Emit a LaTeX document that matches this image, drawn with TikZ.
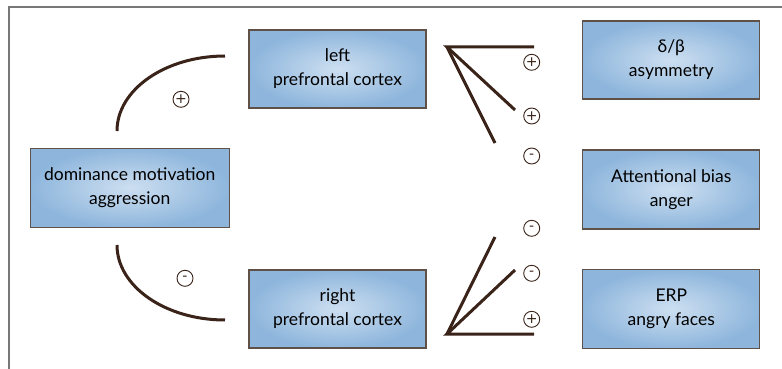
\documentclass[tikz,border=0pt]{standalone}
\usepackage{fontspec}
\setmainfont{Lato}
\newfontfamily\signfont{DejaVu Sans}
\definecolor{boxedge}{RGB}{95,80,72}
\definecolor{boxin}{RGB}{205,223,241}
\definecolor{boxout}{RGB}{142,182,220}
\definecolor{linec}{RGB}{58,36,26}
\definecolor{framec}{RGB}{120,120,120}
\begin{document}
\begin{tikzpicture}[x=1pt,y=-1pt,
  box/.style={draw=boxedge, line width=1.3pt, shading=radial, inner color=boxin, outer color=boxout,
    minimum width=177pt, minimum height=78pt, align=center, inner sep=0pt,
    font=\fontsize{17.5}{24}\selectfont, text=black},
  link/.style={draw=linec, line width=3pt},
  sign/.style={circle, draw=linec, line width=0.9pt, minimum size=16pt, inner sep=0pt,
    font=\signfont\fontsize{14}{14}\selectfont, text=linec}]
\useasboundingbox (0,0) rectangle (782,369);
\fill[white] (0,0) rectangle (782,369);
\draw[framec, line width=1.2pt] (9,369) -- (9,7) -- (782,7);

\node[box] (lpc) at (337.5,69) {left\\prefrontal cortex};
\node[box] (rpc) at (337.5,309) {right\\prefrontal cortex};
\node[box, minimum width=199pt, minimum height=79pt] (dom) at (129.7,187.7) {dominance motivation\\aggression};
\node[box] (db) at (671.3,60) {δ/β\\asymmetry};
\node[box, minimum height=79pt] (att) at (671.3,189.5) {Attentional bias\\anger};
\node[box, minimum height=79pt] (erp) at (671.3,309) {ERP\\angry faces};

% arcs
\coordinate (ua) at (117,131);
\coordinate (ub) at (225,56);
\coordinate (la) at (117,245);
\coordinate (lb) at (225,320);
\draw[link] (ua) .. controls (117,89.6) and (165.4,56) .. (ub);
\draw[link] (la) .. controls (117,286.4) and (165.4,320) .. (lb);
\node[sign] (s0) at (181,99.3) {+};
\node[sign] (s1) at (185,278.3) {-};

% upper fan
\coordinate (uv) at (447,47);
\coordinate (u1) at (534,47);
\coordinate (u2) at (515,110);
\coordinate (u3) at (495,143);
\draw[link, line join=miter] (u1) -- (uv) -- (u2);
\draw[link] (uv) -- (u3);
% lower fan
\coordinate (lv) at (447,334);
\coordinate (l1) at (534,334);
\coordinate (l2) at (515,270);
\coordinate (l3) at (495,237);
\draw[link, line join=miter] (l1) -- (lv) -- (l2);
\draw[link] (lv) -- (l3);

\node[sign] (p1) at (531.7,62.3) {+};
\node[sign] (p2) at (531.7,116) {+};
\node[sign] (m1) at (531.7,156) {-};
\node[sign] (m2) at (531.7,228.3) {-};
\node[sign] (m3) at (531.7,273.3) {-};
\node[sign] (p3) at (531.7,319.3) {+};
\end{tikzpicture}
\end{document}
